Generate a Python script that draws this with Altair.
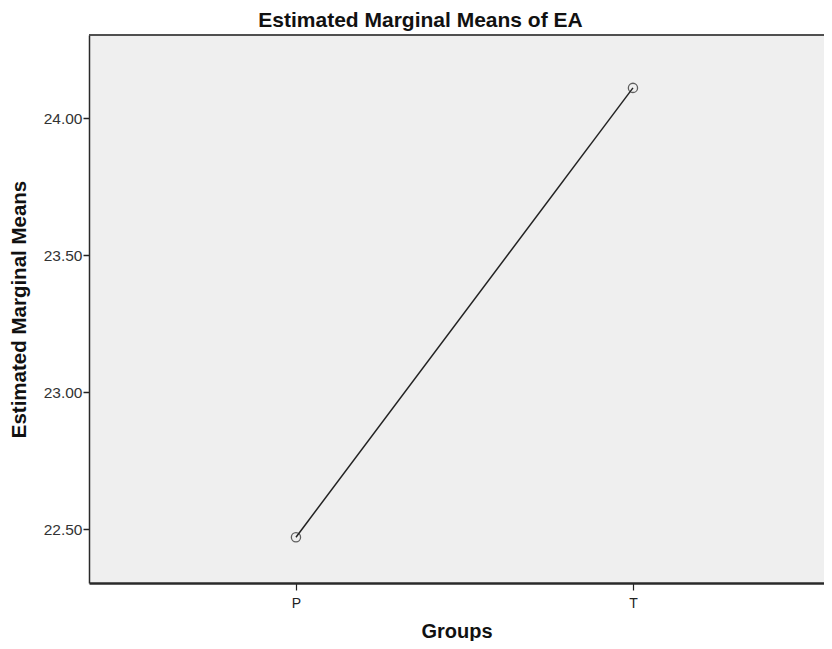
import altair as alt
import pandas as pd

groups = ["P", "T"]
means = [22.47, 24.11]

df = pd.DataFrame({"Groups": groups, "Mean": means})

W = 735
H = 548

x = alt.X("Groups:N", scale=alt.Scale(domain=groups, type="point", padding=0.5905, align=0.52),
          axis=alt.Axis(title="Groups", labelAngle=0, labelFontSize=14, labelColor="#222",
                        labelFont="Liberation Sans", tickColor="#222", tickSize=7, tickWidth=1.2,
                        domainColor="#2a2a2a", domainWidth=2.5, titleFontSize=20,
                        titleFont="Liberation Sans", titleFontWeight="bold", titleColor="#111",
                        titlePadding=11, labelPadding=6, grid=False))
y = alt.Y("Mean:Q", scale=alt.Scale(domain=[22.303, 24.303], nice=False, zero=False),
          axis=alt.Axis(title="Estimated Marginal Means", values=[22.5, 23.0, 23.5, 24.0],
                        format=".2f", labelFontSize=15.5, labelColor="#333",
                        labelFont="Liberation Sans", tickColor="#222", tickSize=6, tickWidth=1.5,
                        domainColor="#2a2a2a", domainWidth=1.5, titleFontSize=20.5,
                        titleFont="Liberation Sans", titleFontWeight="bold", titleColor="#111",
                        titlePadding=14, labelPadding=1, grid=False))

line = alt.Chart(df).mark_line(color="#222", strokeWidth=1.5).encode(x=x, y=y)
pts = alt.Chart(df).mark_point(shape="circle", filled=False, color="#222", size=85,
                               strokeWidth=1.3).encode(x=x, y=y)
top = alt.Chart(df).mark_rule(color="#444", strokeWidth=1.5).encode(
    x=alt.value(0), x2=alt.value(W), y=alt.value(0))

chart = alt.layer(top, line, pts).properties(
    width=W, height=H,
    title=alt.TitleParams("Estimated Marginal Means of EA", fontSize=21, font="Liberation Sans",
                          fontWeight="bold", color="#111", anchor="middle", dx=-36, offset=3),
    autosize=alt.AutoSizeParams(type="none"),
    padding={"left": 81, "top": 27, "right": 0, "bottom": 58},
).configure(background="white").configure_view(fill="#efefef", stroke=None)

chart.save("out.html", embed_options={"renderer": "svg", "actions": False})
